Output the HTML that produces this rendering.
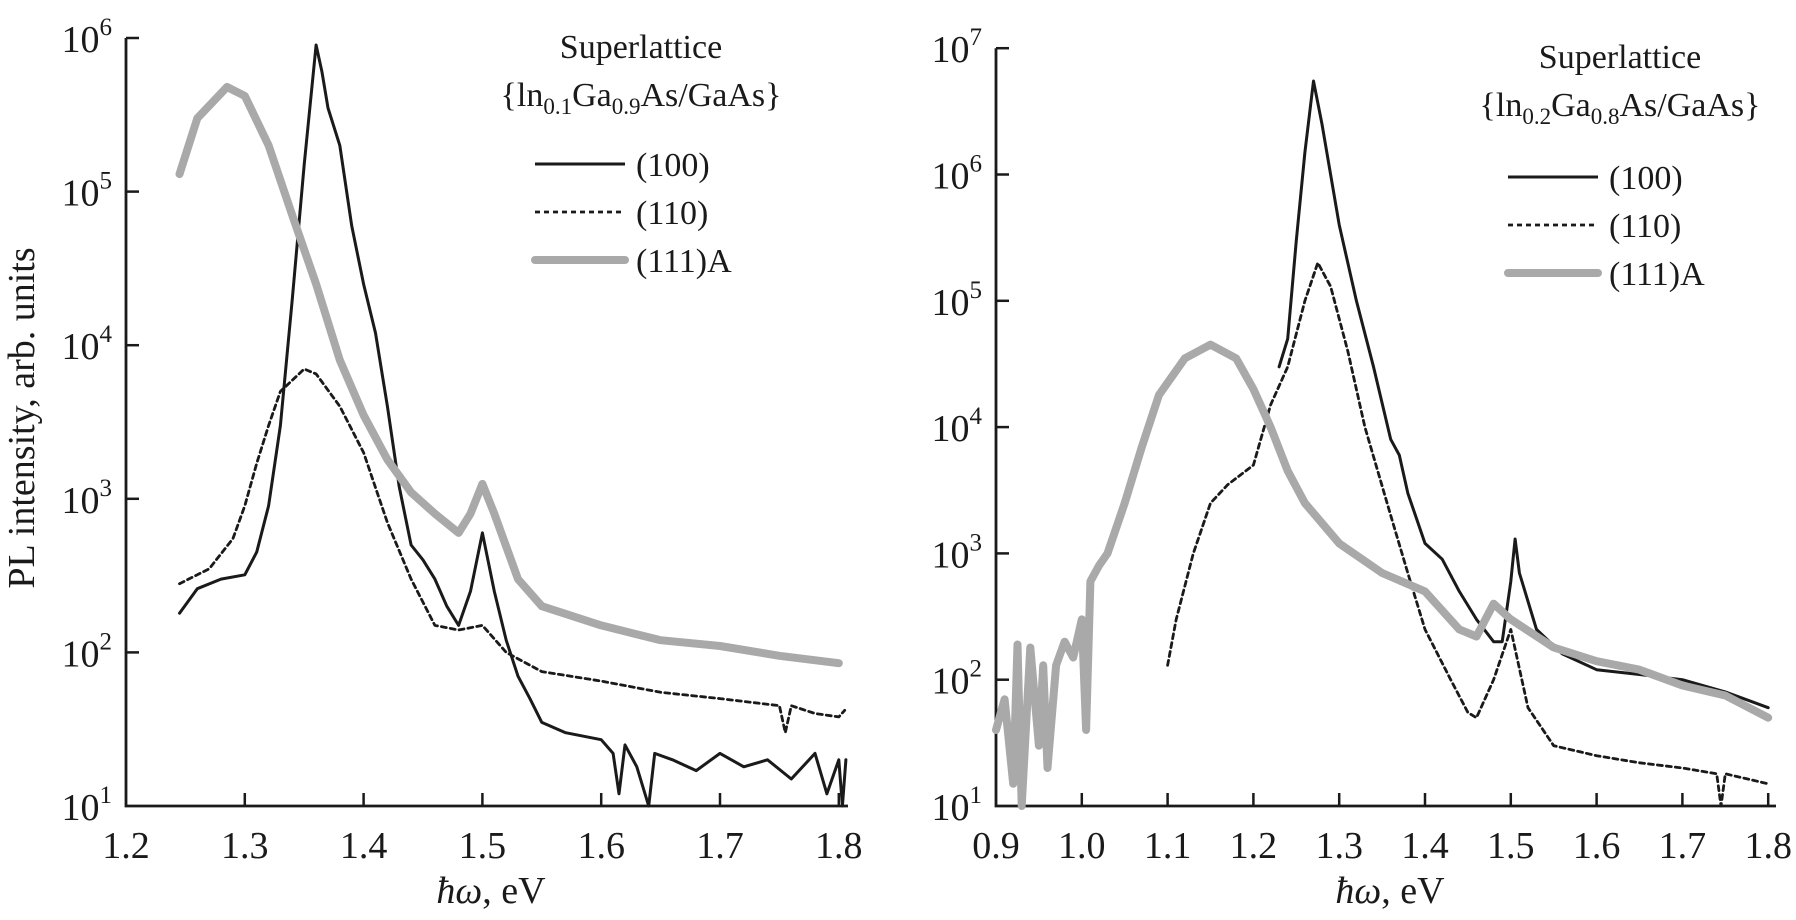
<!DOCTYPE html>
<html><head><meta charset="utf-8">
<style>
html,body{margin:0;padding:0;background:#fff;}
svg, svg text{font-family:"Liberation Serif","DejaVu Serif",serif;}
</style></head>
<body>
<svg id="fig" width="1796" height="915" viewBox="0 0 1796 915" xmlns="http://www.w3.org/2000/svg" font-family="Liberation Serif, serif">
<text transform="translate(34,418) rotate(-90)" text-anchor="middle" font-size="38" font-family="Liberation Serif, serif" fill="#1a1a1a">PL intensity, arb. units</text>
<g id="left"></g>
<g id="right"></g>
</svg>
<script>
// ---- Left chart data (In0.1Ga0.9As/GaAs) ----
const L100_x=[1.245,1.26,1.28,1.30,1.31,1.32,1.33,1.34,1.35,1.36,1.365,1.37,1.38,1.39,1.40,1.41,1.42,1.43,1.44,1.45,1.46,1.47,1.48,1.49,1.50,1.51,1.52,1.53,1.54,1.55,1.57,1.60,1.61,1.615,1.62,1.63,1.64,1.645,1.66,1.68,1.70,1.72,1.74,1.76,1.78,1.79,1.80,1.803,1.806];
const L100_y=[180,260,300,320,450,900,3000,20000,150000,900000,600000,350000,200000,60000,25000,12000,4000,1200,500,400,300,200,150,250,600,250,120,70,50,35,30,27,22,12,25,18,10,22,20,17,22,18,20,15,22,12,20,10,20];
const L110_x=[1.245,1.27,1.29,1.30,1.31,1.32,1.33,1.35,1.36,1.38,1.40,1.42,1.44,1.46,1.48,1.50,1.52,1.55,1.60,1.65,1.70,1.75,1.755,1.76,1.78,1.80,1.805];
const L110_y=[280,350,550,900,1700,3000,5000,7000,6500,4000,2000,700,300,150,140,150,100,75,65,55,50,45,30,45,40,38,42];
const L111_x=[1.245,1.26,1.285,1.30,1.32,1.34,1.36,1.38,1.40,1.42,1.44,1.46,1.48,1.49,1.50,1.51,1.53,1.55,1.60,1.65,1.70,1.75,1.80];
const L111_y=[130000,300000,480000,420000,200000,70000,25000,8000,3500,1800,1100,800,600,800,1250,800,300,200,150,120,110,95,85];
const L_xticks=[1.2,1.3,1.4,1.5,1.6,1.7,1.8];
const L_yexp=[1,2,3,4,5,6];
// ---- Right chart data (In0.2Ga0.8As/GaAs) ----
const R100_x=[1.23,1.24,1.25,1.26,1.27,1.28,1.30,1.32,1.34,1.36,1.37,1.38,1.40,1.42,1.44,1.46,1.48,1.49,1.50,1.505,1.51,1.53,1.56,1.60,1.65,1.70,1.75,1.80];
const R100_y=[30000,50000,300000,1500000,5500000,2500000,400000,100000,30000,8000,6000,3000,1200,900,500,300,200,200,600,1300,700,250,160,120,110,100,80,60];
const R110_x=[1.10,1.11,1.13,1.15,1.17,1.20,1.22,1.24,1.26,1.275,1.29,1.31,1.33,1.36,1.38,1.40,1.43,1.45,1.46,1.48,1.50,1.52,1.55,1.60,1.65,1.70,1.74,1.745,1.75,1.80];
const R110_y=[130,300,1000,2500,3500,5000,15000,30000,100000,200000,130000,40000,10000,2000,700,250,100,55,50,100,250,60,30,25,22,20,18,10,18,15];
const R111_x=[0.90,0.91,0.92,0.925,0.93,0.94,0.95,0.955,0.96,0.97,0.98,0.99,1.00,1.005,1.01,1.02,1.03,1.05,1.07,1.09,1.12,1.15,1.18,1.20,1.22,1.24,1.26,1.30,1.35,1.40,1.44,1.46,1.48,1.50,1.55,1.60,1.65,1.70,1.75,1.80];
const R111_y=[40,70,15,190,10,180,30,130,20,130,200,150,300,40,600,800,1000,2500,7000,18000,35000,45000,35000,20000,10000,4500,2500,1200,700,500,250,220,400,300,180,140,120,90,75,50];
const R_xticks=[0.9,1.0,1.1,1.2,1.3,1.4,1.5,1.6,1.7,1.8];
const R_yexp=[1,2,3,4,5,6,7];

const NS="http://www.w3.org/2000/svg";
const FF="Liberation Serif, serif";
function mk(tag,attrs,parent){const e=document.createElementNS(NS,tag);for(const k in attrs)e.setAttribute(k,attrs[k]);if(tag==='text')e.setAttribute('font-family',FF);parent.appendChild(e);return e;}

function chart(g,o){
  const sx=e=>o.x0+(e-o.e0)*o.pxPerEv;
  const sy=v=>o.yBot-(Math.log10(v)-o.expMin)*o.pxPerDec;
  const ax=mk('path',{d:`M${o.x0} ${sy(Math.pow(10,o.expMax))} L${o.x0} ${o.yBot} L${o.xEnd} ${o.yBot}`,fill:'none',stroke:'#1a1a1a','stroke-width':2.8},g);
  
  
  o.xticks.forEach(t=>{
    const x=sx(t);
    if(t!==o.e0){const tk=mk('line',{x1:x,x2:x,y1:o.yBot,y2:o.yBot-13,stroke:'#1a1a1a','stroke-width':2.5},g);
      
      }
    const lb=mk('text',{x:x,y:o.yBot+52,'text-anchor':'middle','font-size':38,fill:'#1a1a1a'},g);
    lb.textContent=t.toFixed(1);
    
    
  });
  o.yexp.forEach(p=>{
    const y=sy(Math.pow(10,p));
    if(p!==o.expMin){const tk=mk('line',{x1:o.x0,x2:o.x0+13,y1:y,y2:y,stroke:'#1a1a1a','stroke-width':2.5},g);
      
      }
    const lb=mk('text',{x:o.x0-14,y:y+14,'text-anchor':'end','font-size':38,fill:'#1a1a1a'},g);
    
    
    const a=mk('tspan',{},lb);a.textContent='10';
    const b=mk('tspan',{dy:-17,'font-size':25},lb);b.textContent=String(p);
  });
  const xt=mk('text',{x:(o.x0+o.xEnd)/2+4,y:o.yBot+97,'text-anchor':'middle','font-size':38,fill:'#1a1a1a'},g);
  
  
  const i1=mk('tspan',{'font-style':'italic'},xt);i1.textContent='ħω';
  const i2=mk('tspan',{},xt);i2.textContent=', eV';
  o.series.forEach(s=>{
    const d=s.x.map((e,i)=>(i?'L':'M')+sx(e).toFixed(1)+' '+sy(s.y[i]).toFixed(1)).join(' ');
    const p=mk('path',Object.assign({d:d,fill:'none','stroke-linejoin':'round','stroke-linecap':'round'},s.style),g);
    
    
  });
  const t1=mk('text',{x:o.legX,y:o.legY,'text-anchor':'middle','font-size':34,fill:'#1a1a1a'},g);
  t1.textContent='Superlattice';
  
  
  const t2=mk('text',{x:o.legX,y:o.legY+48,'text-anchor':'middle','font-size':34,fill:'#1a1a1a'},g);
  
  
  const parts=[['{ln',0],[o.sub1,1],['Ga',0],[o.sub2,1],['As/GaAs}',0]];
  let prevSub=false;
  parts.forEach(([txt,sub])=>{const ts=mk('tspan',sub?{dy:8,'font-size':23}:(prevSub?{dy:-8}:{}),t2);ts.textContent=txt;prevSub=!!sub;});
  o.series.forEach((s,i)=>{
    const y=o.entY+i*o.entGap;
    const ln=mk('line',Object.assign({x1:o.entX,x2:o.entX+90,y1:y,y2:y,'stroke-linecap':s.name.includes('111')?'round':'butt'},s.style),g);
    
    
    const lt=mk('text',{x:o.entX+101,y:y+12,'font-size':34,fill:'#1a1a1a'},g);
    lt.textContent=s.label;
    
    
  });
}
const sSolid={stroke:'#1a1a1a','stroke-width':3};
const sDash={stroke:'#1a1a1a','stroke-width':2.8,'stroke-dasharray':'5 4'};
const sGray={stroke:'#a9a9a9','stroke-width':8};
chart(document.getElementById('left'),{x0:126,e0:1.2,pxPerEv:1188,xEnd:848,yBot:806,pxPerDec:153.6,expMin:1,expMax:6,
  xticks:L_xticks,yexp:L_yexp,legX:641,legY:58,sub1:'0.1',sub2:'0.9',entX:535,entY:164,entGap:48,
  series:[{name:'series-111A',label:'(111)A',x:L111_x,y:L111_y,style:sGray},
          {name:'series-110',label:'(110)',x:L110_x,y:L110_y,style:sDash},
          {name:'series-100',label:'(100)',x:L100_x,y:L100_y,style:sSolid}].reverse()});
chart(document.getElementById('right'),{x0:996,e0:0.9,pxPerEv:858,xEnd:1776,yBot:806,pxPerDec:126.3,expMin:1,expMax:7,
  xticks:R_xticks,yexp:R_yexp,legX:1620,legY:68,sub1:'0.2',sub2:'0.8',entX:1508,entY:177,entGap:48,
  series:[{name:'series-111A',label:'(111)A',x:R111_x,y:R111_y,style:sGray},
          {name:'series-110',label:'(110)',x:R110_x,y:R110_y,style:sDash},
          {name:'series-100',label:'(100)',x:R100_x,y:R100_y,style:sSolid}].reverse()});
</script>
</body></html>
